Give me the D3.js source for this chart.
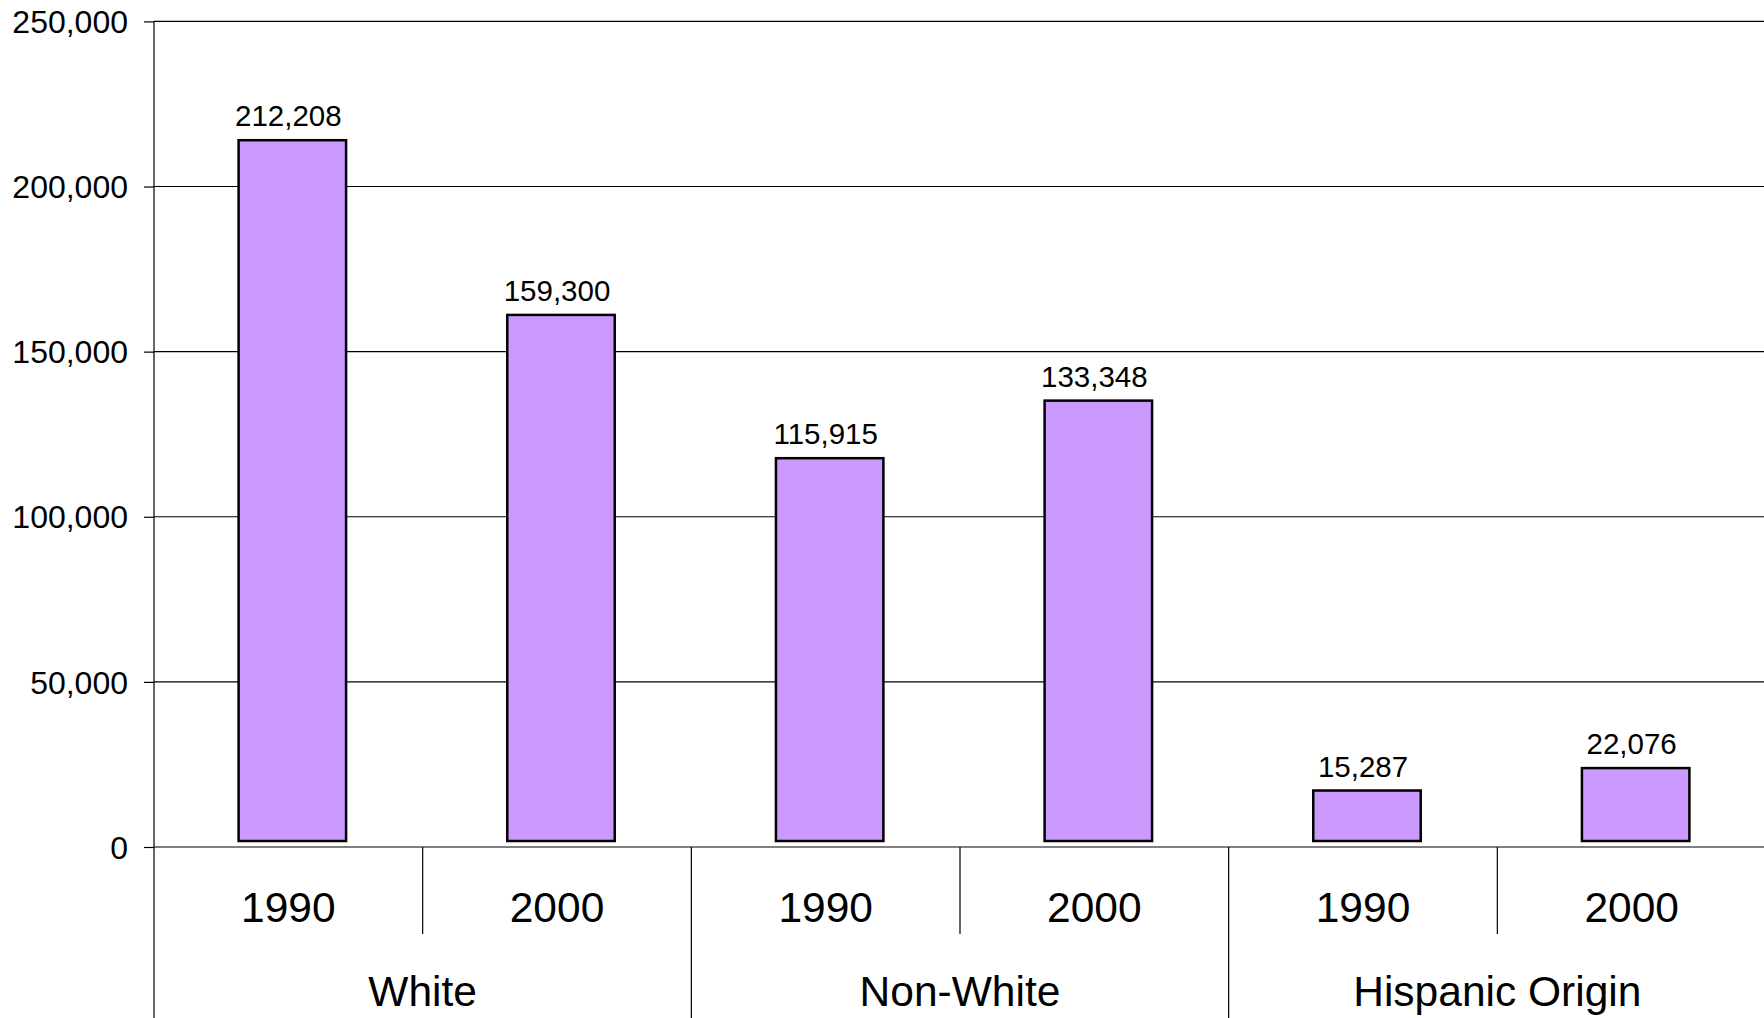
<!DOCTYPE html>
<html>
<head>
<meta charset="utf-8">
<script src="https://cdn.jsdelivr.net/npm/d3@7"></script>
<style>
  html, body { margin: 0; padding: 0; background: #fff; }
  svg { display: block; font-family: "Liberation Sans", Arial, sans-serif; }
</style>
</head>
<body>
<svg id="chart" width="1764" height="1018"></svg>
<script>
const groups = ["White", "Non-White", "Hispanic Origin"];
const years = ["1990", "2000"];
const values = [212208, 159300, 115915, 133348, 15287, 22076];
const yTicks = [0, 50000, 100000, 150000, 200000, 250000];

(function () {
const W = 1764, H = 1018;
const mLeft = 154, mRight = 1766, mTop = 21.4, mBottom = 847;

const data = [];
groups.forEach((g, gi) => years.forEach((yr, yi) => {
  data.push({ group: g, year: yr, key: g + "|" + yr, value: values[gi * years.length + yi] });
}));

const svg = d3.select("#chart");

const x = d3.scaleBand().domain(data.map(d => d.key)).range([mLeft, mRight]).paddingInner(0).paddingOuter(0);
const xGroup = d3.scaleBand().domain(groups).range([mLeft, mRight]);
const y = d3.scaleLinear().domain([0, 250000]).range([mBottom, mTop]);

// gridlines
svg.append("g").selectAll("line").data(yTicks.filter(t => t > 0)).join("line")
  .attr("x1", mLeft).attr("x2", W)
  .attr("y1", d => y(d)).attr("y2", d => y(d))
  .attr("stroke", "#000").attr("stroke-width", 1.2);

// y axis
const yAxis = d3.axisLeft(y).tickValues(yTicks).tickSize(10).tickPadding(16)
  .tickFormat(d3.format(","));
const ya = svg.append("g").attr("transform", `translate(${mLeft},0)`).call(yAxis);
ya.select(".domain").remove();
ya.selectAll(".tick line").attr("stroke", "#000").attr("stroke-width", 1.2);
ya.selectAll(".tick text").attr("font-size", 32).attr("fill", "#000")
  .attr("font-family", "Liberation Sans, Arial, sans-serif").attr("dy", "0.35em");

// bars
const barW = x.bandwidth() * 0.4;
svg.append("g").attr("transform", "translate(4,-6)")
  .selectAll("rect").data(data).join("rect")
  .attr("x", d => x(d.key) + (x.bandwidth() - barW) / 2)
  .attr("y", d => y(d.value))
  .attr("width", barW)
  .attr("height", d => y(0) - y(d.value))
  .attr("fill", "#CC99FF").attr("stroke", "#000").attr("stroke-width", 2.5);

// value labels
svg.append("g").selectAll("text").data(data).join("text")
  .attr("x", d => x(d.key) + x.bandwidth() / 2)
  .attr("y", d => y(d.value) - 20)
  .attr("text-anchor", "middle").attr("font-size", 29.5).attr("fill", "#000")
  .text(d => d3.format(",")(d.value));

// zero axis line
svg.append("line").attr("x1", mLeft).attr("x2", W).attr("y1", y(0)).attr("y2", y(0))
  .attr("stroke", "#555").attr("stroke-width", 1.5);

// left vertical axis line
svg.append("line").attr("x1", mLeft).attr("x2", mLeft).attr("y1", mTop).attr("y2", H)
  .attr("stroke", "#000").attr("stroke-width", 1.2);

// year dividers within groups
svg.append("g").selectAll("line").data(data.filter(d => d.year !== years[0])).join("line")
  .attr("x1", d => x(d.key)).attr("x2", d => x(d.key))
  .attr("y1", y(0)).attr("y2", 934)
  .attr("stroke", "#000").attr("stroke-width", 1.2);

// group dividers
svg.append("g").selectAll("line").data(groups.slice(1)).join("line")
  .attr("x1", d => xGroup(d)).attr("x2", d => xGroup(d))
  .attr("y1", y(0)).attr("y2", H)
  .attr("stroke", "#000").attr("stroke-width", 1.2);

// year labels
svg.append("g").selectAll("text").data(data).join("text")
  .attr("x", d => x(d.key) + x.bandwidth() / 2)
  .attr("y", 921.5)
  .attr("text-anchor", "middle").attr("font-size", 42.5).attr("fill", "#000")
  .text(d => d.year);

// group labels
svg.append("g").selectAll("text").data(groups).join("text")
  .attr("x", d => xGroup(d) + xGroup.bandwidth() / 2)
  .attr("y", 1006)
  .attr("text-anchor", "middle").attr("font-size", 42.5).attr("fill", "#000")
  .text(d => d);
})();
</script>
</body>
</html>
